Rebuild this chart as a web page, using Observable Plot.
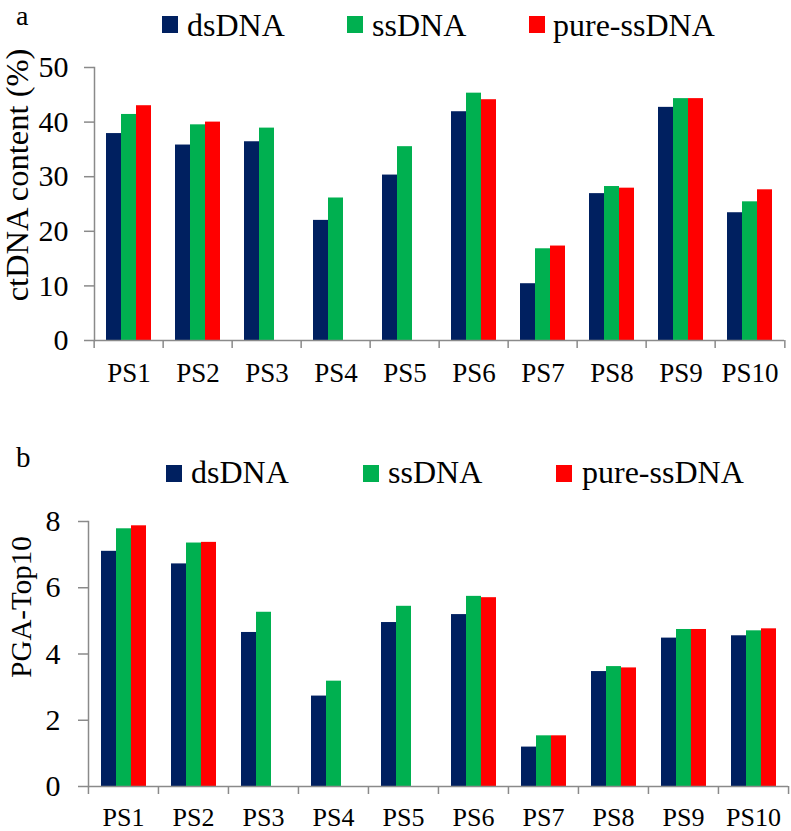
<!DOCTYPE html>
<html>
<head>
<meta charset="utf-8">
<script src="https://cdn.jsdelivr.net/npm/d3@7"></script>
<script src="https://cdn.jsdelivr.net/npm/@observablehq/plot@0.6"></script>
<style>
  body { margin: 0; background: #fff; }
  #wrap { position: relative; width: 791px; height: 831px; overflow: hidden;
          font-family: 'Liberation Serif', 'Times New Roman', serif; color: #000; }
  .panel { position: absolute; left: 0; }
  .txt { position: absolute; line-height: 1; white-space: nowrap; }
  .sw { position: absolute; width: 16px; height: 17px; }
</style>
</head>
<body>
<div id="wrap"></div>
<script>
// ---- data ----
const categories = ["PS1", "PS2", "PS3", "PS4", "PS5", "PS6", "PS7", "PS8", "PS9", "PS10"];
const series = ["dsDNA", "ssDNA", "pure-ssDNA"];
const colors = ["#002060", "#00B050", "#FF0000"];

const ctDNA_ds   = [37.9, 35.8, 36.4, 22.0, 30.3, 41.9, 10.4, 26.9, 42.7, 23.4];
const ctDNA_ss   = [41.4, 39.5, 38.9, 26.1, 35.5, 45.3, 16.8, 28.2, 44.3, 25.4];
const ctDNA_pure = [43.0, 40.0, null, null, null, 44.1, 17.3, 27.9, 44.3, 27.6];

const pga_ds   = [7.10, 6.72, 4.65, 2.73, 4.95, 5.19, 1.19, 3.47, 4.48, 4.55];
const pga_ss   = [7.78, 7.35, 5.26, 3.18, 5.44, 5.74, 1.53, 3.62, 4.74, 4.70];
const pga_pure = [7.87, 7.37, null, null, null, 5.70, 1.53, 3.58, 4.74, 4.76];

const yTicksA = [0, 10, 20, 30, 40, 50];
const yTicksB = [0, 2, 4, 6, 8];
const yLabelA = "ctDNA content (%)";
const yLabelB = "PGA-Top10";

// ---- drawing ----
const FONT = "Liberation Serif, Times New Roman, serif";
const AXIS = "#8a8a8a";
const wrap = document.getElementById("wrap");

function panel(o) {
  const rows = [];
  categories.forEach((c, i) => series.forEach((s, j) => {
    const v = o.values[j][i];
    if (v != null) rows.push({cat: c, series: s, value: v});
  }));
  const width = 791;
  const step = (width - o.ml - o.mr) / categories.length;
  return Plot.plot({
    width, height: o.height,
    marginTop: o.mt, marginBottom: o.mb, marginLeft: o.ml, marginRight: o.mr,
    style: {fontFamily: FONT, fontSize: "28px", color: "#000", background: "transparent"},
    fx: {domain: categories, padding: 0, label: null},
    x: {domain: series, paddingInner: 0, paddingOuter: 0.75, axis: null},
    y: {domain: [0, o.ticks[o.ticks.length - 1]], label: null},
    color: {domain: series, range: colors},
    marks: [
      Plot.barY(rows, {fx: "cat", x: "series", y: "value", fill: "series"}),
      Plot.ruleY([0], {stroke: AXIS, strokeWidth: 1.5}),
      Plot.frame({anchor: "left", stroke: AXIS, strokeWidth: 1.5, facetAnchor: "left"}),
      Plot.axisY({ticks: o.ticks, tickSize: 10, tickPadding: o.tickPad, stroke: AXIS, strokeWidth: 1.5,
                  fill: "#000", fontSize: o.tickFont, fontFamily: FONT, label: null, facetAnchor: "left"}),
      Plot.axisFx({anchor: "bottom", tickSize: 8, fill: "none", stroke: AXIS, strokeWidth: 1.5, dx: -step / 2, label: null}),
      Plot.axisFx({anchor: "bottom", ticks: [categories[categories.length - 1]], tickSize: 8, fill: "none",
                   stroke: AXIS, strokeWidth: 1.5, dx: step / 2, label: null}),
      Plot.axisFx({anchor: "bottom", tickSize: 0, tickPadding: o.xPad, fontSize: o.xFont, fontFamily: FONT,
                   fill: "#000", label: null}),
      Plot.text([o.label], {text: d => d, frameAnchor: "left", rotate: -90, textAnchor: "middle", lineAnchor: "middle",
                            dx: o.labelDx, dy: o.labelDy, fontSize: o.labelFont, fontFamily: FONT,
                            fill: "#000", facetAnchor: "left"})
    ]
  });
}

function place(el, top) {
  el.classList.add("panel");
  el.style.top = top + "px";
  wrap.appendChild(el);
}

place(panel({values: [ctDNA_ds, ctDNA_ss, ctDNA_pure], ticks: yTicksA, label: yLabelA,
             height: 400, mt: 67, mb: 60, ml: 90, mr: 4, tickPad: 16, tickFont: 30,
             xPad: 22, xFont: 27,
             labelDx: -77, labelDy: -29, labelFont: 32.5}), 0);
place(panel({values: [pga_ds, pga_ss, pga_pure], ticks: yTicksB, label: yLabelB,
             height: 431, mt: 121, mb: 45, ml: 87, mr: 3, tickPad: 18, tickFont: 30,
             xPad: 21, xFont: 26,
             labelDx: -67, labelDy: -47, labelFont: 29}), 400);

// ---- legends and panel letters (HTML) ----
function txt(s, left, top, size) {
  const d = document.createElement("div");
  d.className = "txt"; d.textContent = s;
  d.style.left = left + "px"; d.style.top = top + "px"; d.style.fontSize = size + "px";
  wrap.appendChild(d);
}
function sw(color, left, top) {
  const d = document.createElement("div");
  d.className = "sw"; d.style.background = color;
  d.style.left = left + "px"; d.style.top = top + "px";
  wrap.appendChild(d);
}
const legA = [[162, 187], [347, 372], [529, 553]];
const legB = [[166, 191], [363, 388], [556, 582]];
series.forEach((s, i) => {
  sw(colors[i], legA[i][0], 16);
  txt(s, legA[i][1], 9, 32);
  sw(colors[i], legB[i][0], 465);
  txt(s, legB[i][1], 456, 32);
});
txt("a", 16, 2, 28);
txt("b", 16, 443, 29);
</script>
</body>
</html>
